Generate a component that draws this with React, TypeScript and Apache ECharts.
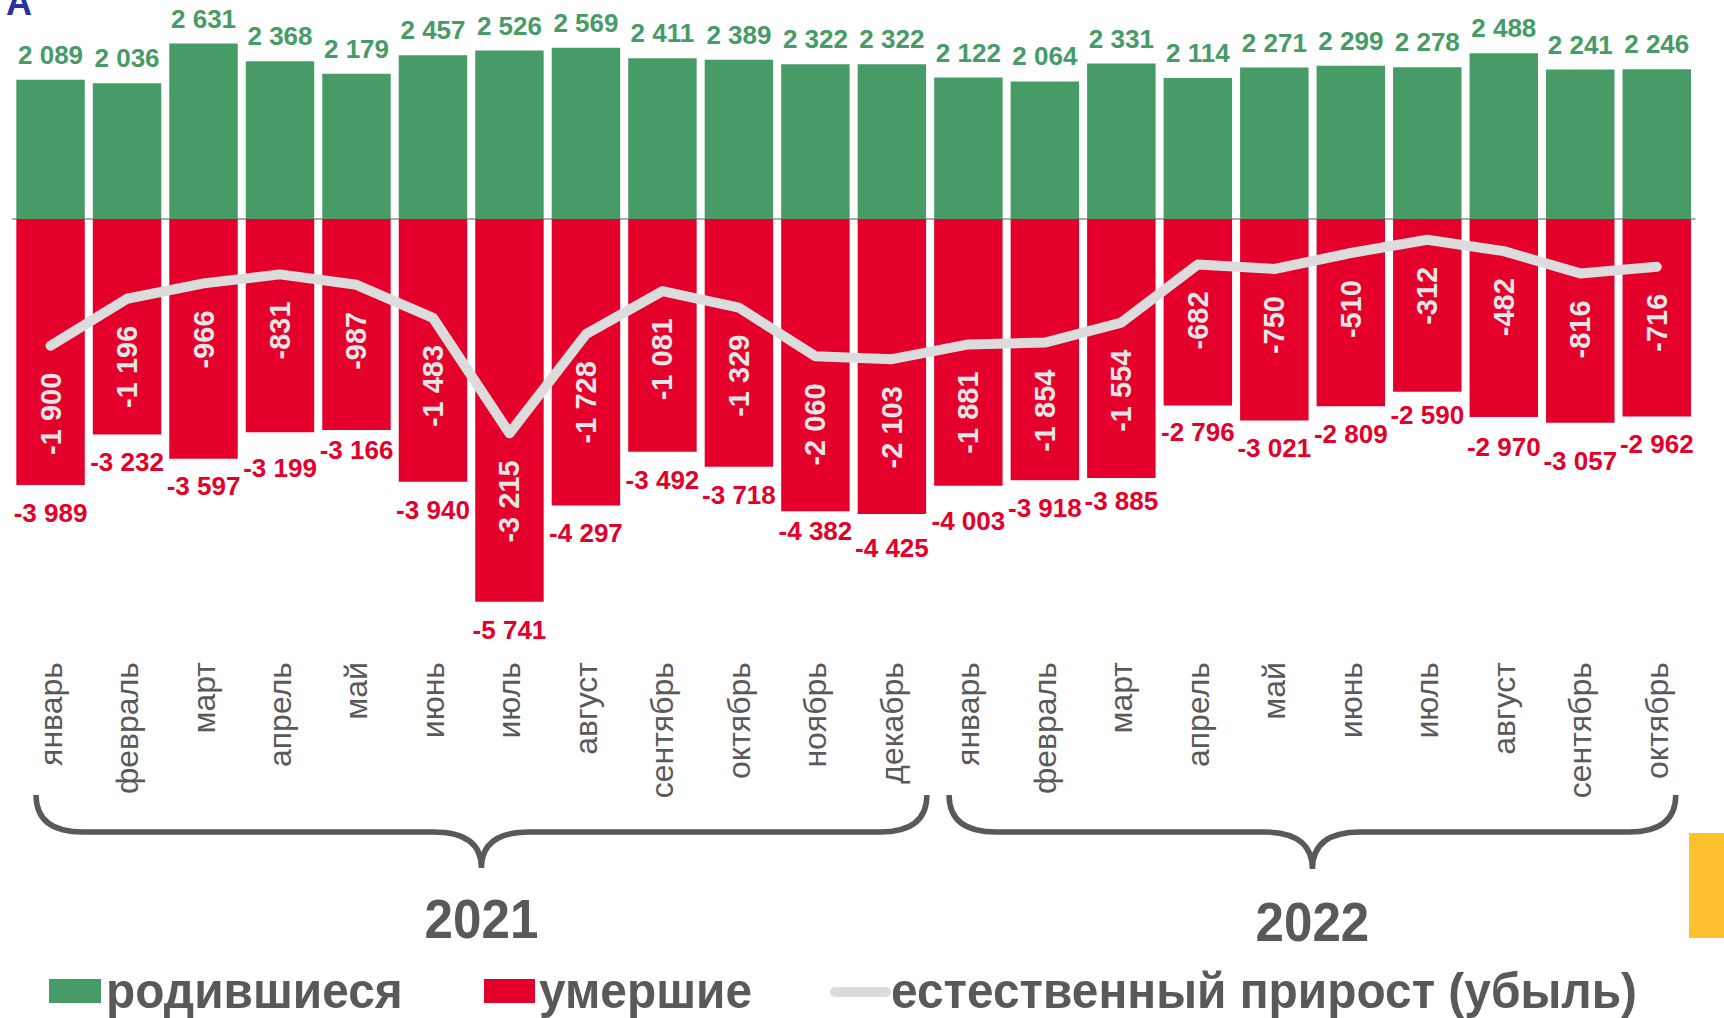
import React, { useEffect, useRef } from "react";
import * as echarts from "echarts";

const monthNames = ["январь", "февраль", "март", "апрель", "май", "июнь", "июль", "август", "сентябрь", "октябрь", "ноябрь", "декабрь"];
const categories2021 = monthNames;
const categories2022 = monthNames.slice(0, 10);
const categories = [...categories2021, ...categories2022];

const births2021 = [2089, 2036, 2631, 2368, 2179, 2457, 2526, 2569, 2411, 2389, 2322, 2322];
const births2022 = [2122, 2064, 2331, 2114, 2271, 2299, 2278, 2488, 2241, 2246];
const deaths2021 = [-3989, -3232, -3597, -3199, -3166, -3940, -5741, -4297, -3492, -3718, -4382, -4425];
const deaths2022 = [-4003, -3918, -3885, -2796, -3021, -2809, -2590, -2970, -3057, -2962];
const natural2021 = [-1900, -1196, -966, -831, -987, -1483, -3215, -1728, -1081, -1329, -2060, -2103];
const natural2022 = [-1881, -1854, -1554, -682, -750, -510, -312, -482, -816, -716];
const yearLabels = ["2021", "2022"];
const legendLabels = ["родившиеся", "умершие", "естественный прирост (убыль)"];

// vertical nudges (px) of the deaths labels, as placed by hand in the original
const deathLabelNudge = [0, 0, -1, 8, -8, 0, 0, 0, 0, 0, -8, 6, 7, 0, -5, -1, 0, 0, -5, 2, 10, 0];

const births = [...births2021, ...births2022];
const deaths = [...deaths2021, ...deaths2022];
const natural = [...natural2021, ...natural2022];

const GREEN = "#479B67";
const RED = "#E4002B";
const LINE = "#DCDCDC";
const GRAY = "#595959";
const SANS = "'Liberation Sans', Arial, sans-serif";

function fmt(n: number): string {
  const s = String(Math.abs(n)).replace(/\B(?=(\d{3})+(?!\d))/g, " ");
  return (n < 0 ? "-" : "") + s;
}

function bracePath(x1: number, x2: number, yTop: number, yMid: number, yTip: number, r: number, r2: number): string {
  const m = (x1 + x2) / 2;
  return `M${x1},${yTop} Q${x1},${yMid} ${x1 + r},${yMid} L${m - r2},${yMid} Q${m},${yMid} ${m},${yTip} Q${m},${yMid} ${m + r2},${yMid} L${x2 - r},${yMid} Q${x2},${yMid} ${x2},${yTop}`;
}

export default function App() {
  const ref = useRef<HTMLDivElement>(null);
  useEffect(() => {
    if (!ref.current) return;
    const chart = echarts.init(ref.current, null, { renderer: "svg" });
    const option: any = {
      animation: false,
      backgroundColor: "#ffffff",
      textStyle: { fontFamily: SANS },
      grid: { left: 12.3, right: 29, top: 19, height: 600, containLabel: false },
      xAxis: [
        {
          type: "category",
          data: categories,
          axisLine: { show: true, onZero: true, lineStyle: { color: "#8f8f8f", width: 1.5 } },
          axisTick: { show: false },
          axisLabel: { show: false },
          splitLine: { show: false },
        },
        {
          type: "category",
          data: categories,
          position: "bottom",
          axisLine: { show: false, onZero: false },
          axisTick: { show: false },
          splitLine: { show: false },
          axisLabel: { rotate: 90, margin: 43, color: GRAY, fontSize: 32, fontFamily: SANS, interval: 0 },
        },
      ],
      yAxis: { type: "value", min: -6000, max: 3000, show: false },
      series: [
        {
          name: legendLabels[0],
          type: "bar",
          data: births,
          barGap: "-100%",
          barCategoryGap: "10.5%",
          itemStyle: { color: GREEN },
          label: {
            show: true,
            position: "top",
            distance: 12,
            formatter: (p: any) => fmt(p.value),
            color: GREEN,
            fontSize: 26,
            fontWeight: "bold",
            fontFamily: SANS,
          },
        },
        {
          name: legendLabels[1],
          type: "bar",
          data: deaths.map((v, i) => ({ value: v, label: { offset: [0, deathLabelNudge[i]] } })),
          barGap: "-100%",
          barCategoryGap: "10.5%",
          itemStyle: { color: RED },
          label: {
            show: true,
            position: "bottom",
            distance: 15,
            formatter: (p: any) => fmt(p.value),
            color: RED,
            fontSize: 26,
            fontWeight: "bold",
            fontFamily: SANS,
          },
        },
        {
          name: legendLabels[2],
          type: "line",
          data: natural,
          symbol: "circle",
          symbolSize: 2,
          z: 5,
          lineStyle: { color: LINE, width: 10, cap: "round", join: "round" },
          itemStyle: { color: LINE },
          label: {
            show: true,
            position: "bottom",
            distance: 26,
            rotate: 90,
            align: "right",
            verticalAlign: "middle",
            formatter: (p: any) => fmt(p.value),
            color: "#E6E6E6",
            fontSize: 29,
            fontWeight: "bold",
            fontFamily: SANS,
          },
        },
      ],
    };
    chart.setOption(option);

    const px = (i: number) => chart.convertToPixel({ xAxisIndex: 0 }, i) as number;
    const b1x1 = px(0) - 14.5;
    const b1x2 = px(11) + 35;
    const b2x1 = px(12) - 19.3;
    const b2x2 = px(21) + 19;
    echarts.graphic.registerShape("brace2021", echarts.graphic.extendPath(bracePath(b1x1, b1x2, 795, 832, 868, 47, 48), {}));
    echarts.graphic.registerShape("brace2022", echarts.graphic.extendPath(bracePath(b2x1, b2x2, 795, 832, 869, 47, 48), {}));

    const legendFont = `bold 50px ${SANS}`;
    const legendScale = 0.957;
    chart.setOption({
      graphic: [
        { type: "brace2021", x: 0, y: 0, style: { stroke: GRAY, lineWidth: 5.5, fill: "none" } },
        { type: "brace2022", x: 0, y: 0, style: { stroke: GRAY, lineWidth: 5.5, fill: "none" } },
        {
          type: "text",
          x: (b1x1 + b1x2) / 2,
          y: 919,
          scaleX: 0.93,
          style: { text: yearLabels[0], fill: GRAY, font: `bold 55px ${SANS}`, align: "center", verticalAlign: "middle" },
        },
        {
          type: "text",
          x: (b2x1 + b2x2) / 2,
          y: 922,
          scaleX: 0.93,
          style: { text: yearLabels[1], fill: GRAY, font: `bold 55px ${SANS}`, align: "center", verticalAlign: "middle" },
        },
        { type: "rect", shape: { x: 49, y: 979, width: 52, height: 24 }, style: { fill: GREEN } },
        {
          type: "text",
          x: 106,
          y: 991,
          scaleX: legendScale,
          style: { text: legendLabels[0], fill: GRAY, font: legendFont, align: "left", verticalAlign: "middle" },
        },
        { type: "rect", shape: { x: 484, y: 979, width: 51, height: 24 }, style: { fill: RED } },
        {
          type: "text",
          x: 539,
          y: 991,
          scaleX: legendScale,
          style: { text: legendLabels[1], fill: GRAY, font: legendFont, align: "left", verticalAlign: "middle" },
        },
        { type: "line", shape: { x1: 835, y1: 992, x2: 886, y2: 992 }, style: { stroke: LINE, lineWidth: 10, lineCap: "round" } },
        {
          type: "text",
          x: 891,
          y: 991,
          scaleX: legendScale,
          style: { text: legendLabels[2], fill: GRAY, font: legendFont, align: "left", verticalAlign: "middle" },
        },
        { type: "rect", shape: { x: 1689, y: 833, width: 35, height: 105 }, style: { fill: "#FEC12E" } },
        {
          type: "text",
          x: 6,
          y: 20,
          style: { text: "А", fill: "#27339B", font: `bold 36px ${SANS}`, align: "left", verticalAlign: "bottom" },
        },
      ],
    });

    return () => chart.dispose();
  }, []);
  return (
    <div
      ref={ref}
      style={{ position: "fixed", left: 0, top: 0, width: 1724, height: 1018, background: "#ffffff" }}
    />
  );
}
